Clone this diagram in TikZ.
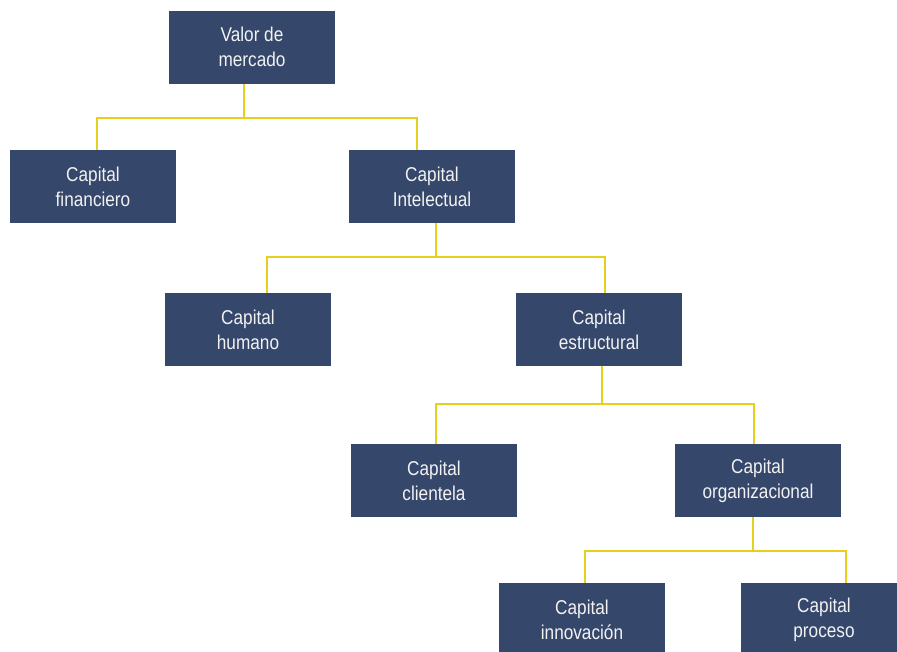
\documentclass[tikz,border=0pt]{standalone}
\usepackage{fontspec}
\newfontfamily\boxfont[FakeStretch=0.86]{Liberation Sans}
\definecolor{boxblue}{HTML}{35476B}
\definecolor{lineyellow}{HTML}{E5D01E}
\definecolor{boxtext}{HTML}{F2F2F2}
\begin{document}
\begin{tikzpicture}[x=1pt,y=-1pt,
  orgbox/.style={rectangle, fill=boxblue, draw=none, minimum width=166pt, minimum height=73pt,
    inner sep=0pt, align=center, text=boxtext, font=\boxfont\fontsize{20}{25}\selectfont},
  conn/.style={draw=lineyellow, line width=1.6pt}]
\useasboundingbox (0,0) rectangle (897,651);
\clip (0,0) rectangle (897,651);
\node[orgbox] (valor) at (252,47) {Valor de\\mercado};
\node[orgbox] (fin) at (93,186.5) {Capital\\financiero};
\node[orgbox] (intel) at (432,186.5) {Capital\\Intelectual};
\node[orgbox] (hum) at (248,329.5) {Capital\\humano};
\node[orgbox] (estr) at (599,329.5) {Capital\\estructural};
\node[orgbox] (cli) at (434,480.5) {Capital\\clientela};
\node[orgbox] (org) at (758,480.5) {Capital\\organizacional};
\node[orgbox] (inn) at (582,619.5) {Capital\\innovación};
\node[orgbox] (pro) at (824,619.5) {Capital\\proceso};
% connectors
\draw[conn] ([xshift=-8pt]valor.south) -- ++(0,34) -| ([xshift=4pt]fin.north);
\draw[conn] ([xshift=-8pt]valor.south) -- ++(0,34) -| ([xshift=-15pt]intel.north);
\draw[conn] ([xshift=4pt]intel.south) -- ++(0,34) -| ([xshift=19pt]hum.north);
\draw[conn] ([xshift=4pt]intel.south) -- ++(0,34) -| ([xshift=6pt]estr.north);
\draw[conn] ([xshift=3pt]estr.south) -- ++(0,38) -| ([xshift=2pt]cli.north);
\draw[conn] ([xshift=3pt]estr.south) -- ++(0,38) -| ([xshift=-4pt]org.north);
\draw[conn] ([xshift=-5pt]org.south) -- ++(0,34) -| ([xshift=3pt]inn.north);
\draw[conn] ([xshift=-5pt]org.south) -- ++(0,34) -| ([xshift=22pt]pro.north);
\end{tikzpicture}
\end{document}
